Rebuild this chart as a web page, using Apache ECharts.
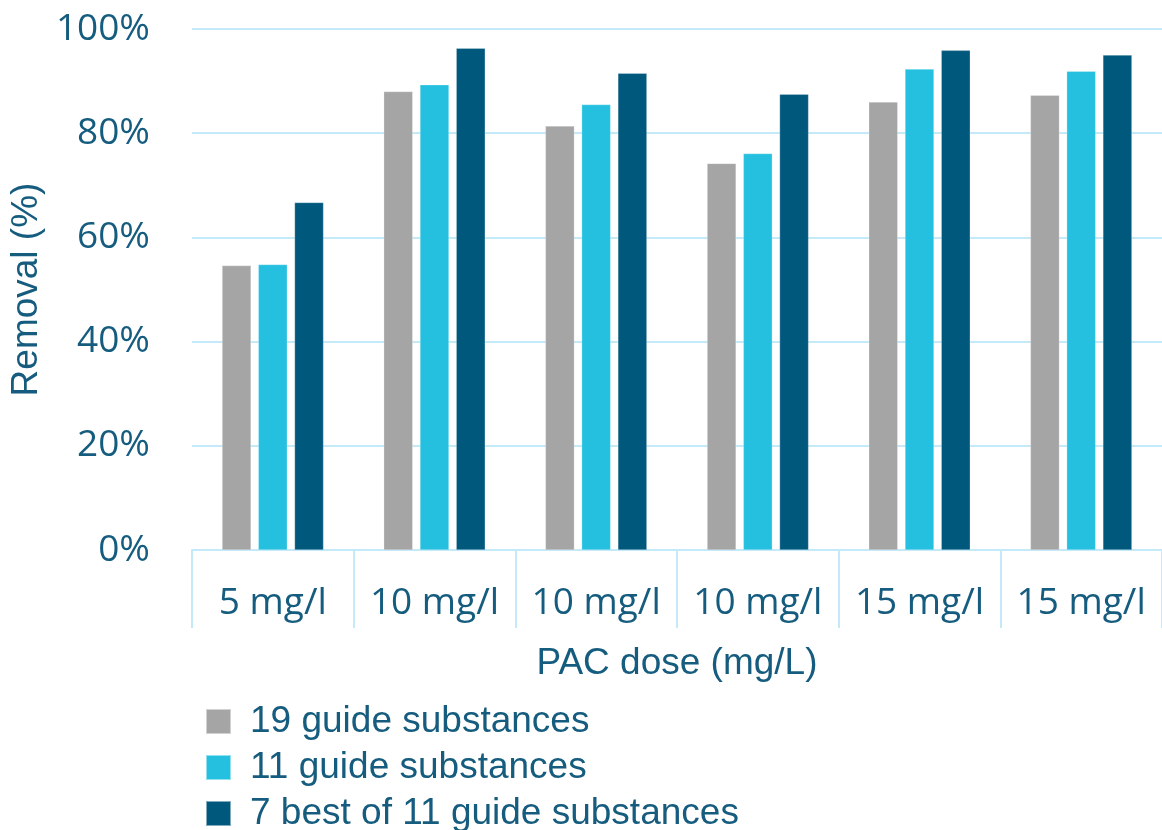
<!DOCTYPE html>
<html>
<head>
<meta charset="utf-8">
<script src="https://cdn.jsdelivr.net/npm/echarts@6/dist/echarts.min.js"></script>
<style>
    html, body { margin: 0; padding: 0; background: #fff; }
    #chart { width: 1162px; height: 830px; }
</style>
</head>
<body>
<div id="chart"></div>
<script>
const categories = ['5 mg/l', '10 mg/l', '10 mg/l', '10 mg/l', '15 mg/l', '15 mg/l']
const guide19 = [54.6, 88.0, 81.4, 74.2, 86.0, 87.3]
const guide11 = [54.8, 89.3, 85.5, 76.1, 92.3, 91.9]
const best7of11 = [66.7, 96.3, 91.5, 87.5, 95.9, 95.0]
const seriesNames = ['19 guide substances', '11 guide substances', '7 best of 11 guide substances']
const yTicks = [0, 20, 40, 60, 80, 100]

const textColor = '#155C7E'
const lineColor = '#C4E9F9'

const chart = echarts.init(document.getElementById('chart'))

const makeBar = (name, color, data) => ({
    name,
    type: 'bar',
    barWidth: 29,
    barGap: '25%',
    itemStyle: {
        color,
        borderColor: 'rgba(255,255,255,0.5)',
        borderWidth: 0.5,
    },
    data,
})

chart.setOption({
    backgroundColor: '#fff',
    animation: false,
    textStyle: { fontFamily: 'Open Sans' },
    grid: {
        left: 190,
        right: -9,
        top: 29,
        bottom: 280,
    },
    legend: {
        orient: 'vertical',
        left: 205,
        top: 703,
        height: 200,
        padding: 0,
        itemWidth: 25,
        itemHeight: 25,
        itemGap: 9,
        icon: 'rect',
        textStyle: {
            fontFamily: 'Liberation Sans',
            fontSize: 37,
            lineHeight: 36,
            color: textColor,
            padding: [0, 0, 0, 14],
        },
        data: seriesNames,
    },
    xAxis: {
        type: 'category',
        data: categories,
        name: 'PAC dose (mg/L)',
        nameLocation: 'middle',
        nameGap: 95,
        nameTextStyle: {
            fontFamily: 'Liberation Sans',
            fontSize: 37,
            color: textColor,
        },
        axisLine: { show: true, lineStyle: { color: lineColor, width: 2 } },
        axisTick: {
            show: true,
            alignWithLabel: false,
            interval: 0,
            length: 78,
            lineStyle: { color: lineColor, width: 2 },
        },
        axisLabel: {
            interval: 0,
            hideOverlap: false,
            fontFamily: 'Open Sans',
            fontSize: 37,
            color: textColor,
            margin: 35,
        },
    },
    yAxis: {
        type: 'value',
        min: yTicks[0],
        max: yTicks[yTicks.length - 1],
        interval: yTicks[1] - yTicks[0],
        name: 'Removal (%)',
        nameLocation: 'middle',
        nameGap: 131,
        nameTextStyle: {
            fontFamily: 'Liberation Sans',
            fontSize: 37,
            color: textColor,
        },
        axisLine: { show: false },
        axisTick: { show: false },
        splitLine: { lineStyle: { color: lineColor, width: 2 } },
        axisLabel: {
            fontFamily: 'Open Sans',
            fontSize: 37,
            color: textColor,
            margin: 42,
            formatter: '{value}%',
        },
    },
    series: [
        makeBar(seriesNames[0], '#A5A5A5', guide19),
        makeBar(seriesNames[1], '#25C0E0', guide11),
        makeBar(seriesNames[2], '#00587D', best7of11),
    ],
})
</script>
</body>
</html>
